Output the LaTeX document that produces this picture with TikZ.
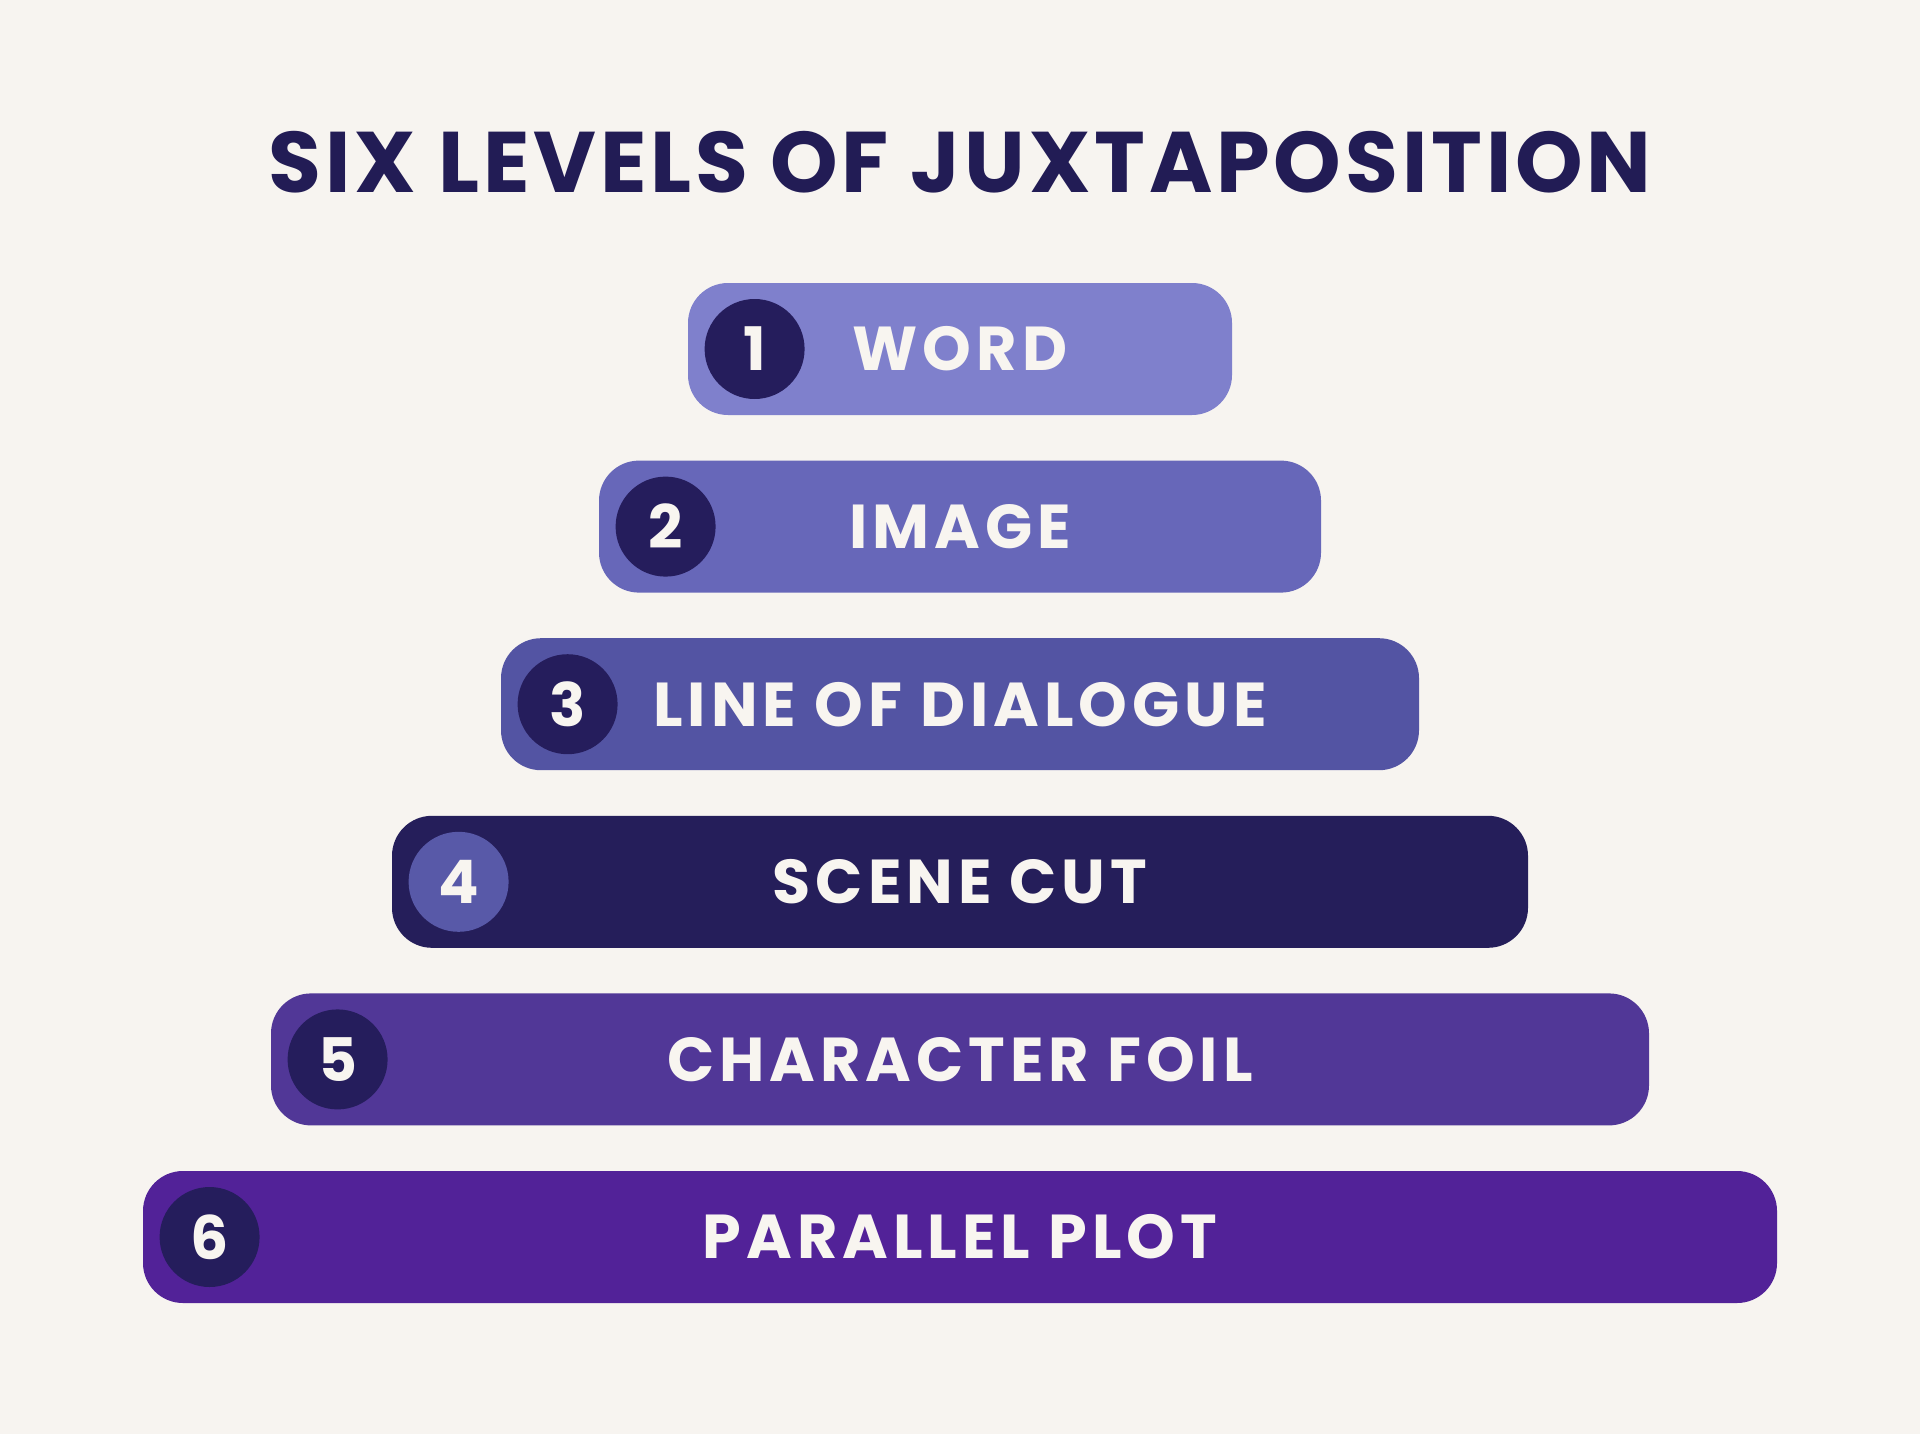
\documentclass[tikz,border=0pt]{standalone}
\usepackage{fontspec}
\setmainfont{Poppins}
\newfontfamily\levelfont{Poppins}[LetterSpace=8]
\newfontfamily\headfont{Poppins}[LetterSpace=4.5]
\definecolor{paper}{HTML}{F7F4F0}
\definecolor{ink}{HTML}{221C55}
\definecolor{snow}{HTML}{F8F5F0}
\definecolor{levA}{HTML}{7F80CC}
\definecolor{levB}{HTML}{6767B9}
\definecolor{levC}{HTML}{5354A3}
\definecolor{levD}{HTML}{251E5A}
\definecolor{levE}{HTML}{513797}
\definecolor{levF}{HTML}{522298}
\definecolor{dotdark}{HTML}{251D5C}
\definecolor{dotlight}{HTML}{5859A8}
\tikzset{
  levelbar/.style={rectangle, rounded corners=20pt, minimum height=66pt, inner sep=0pt},
  leveldot/.style={circle, minimum size=50pt, inner sep=0pt, text=snow,
    font=\headfont\bfseries\fontsize{30}{30}\selectfont},
  leveltext/.style={text=snow, font=\levelfont\bfseries\fontsize{31}{31}\selectfont}
}
\begin{document}
\begin{tikzpicture}[x=0.5pt, y=-0.5pt]
                \fill[paper] (0,0) rectangle (1920,1434);
                \useasboundingbox (0,0) rectangle (1920,1434);
                \node[text=ink, font=\headfont\bfseries\fontsize{43}{43}\selectfont] (title) at (960,162) {SIX LEVELS OF JUXTAPOSITION};
                \foreach \i/\w/\txt/\barcol/\dotcol in {1/272/WORD/levA/dotdark, 2/361/IMAGE/levB/dotdark,
                    3/459/LINE OF DIALOGUE/levC/dotdark, 4/568/SCENE CUT/levD/dotlight,
                    5/689/CHARACTER FOIL/levE/dotdark, 6/817/PARALLEL PLOT/levF/dotdark} {
                    \node[levelbar, fill=\barcol, minimum width=\w pt] (bar\i) at (960,{349+177.6*(\i-1)}) {};
                    \node[leveldot, fill=\dotcol] (num\i) at ([xshift=33.5pt]bar\i.west) {\i};
                    \node[leveltext] (label\i) at (bar\i.center) {\txt};
                }
            \end{tikzpicture}
\end{document}
